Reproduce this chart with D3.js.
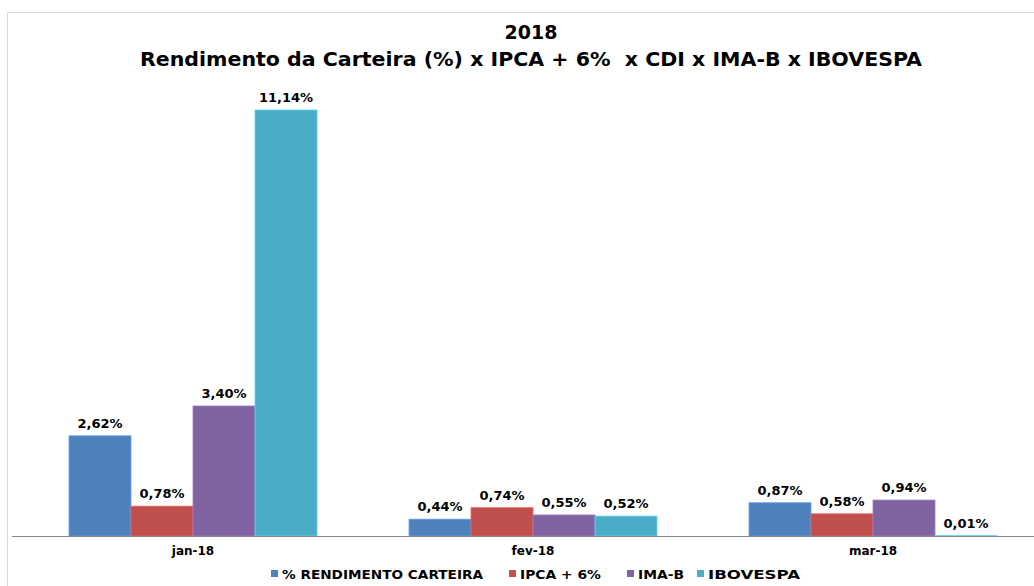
<!DOCTYPE html>
<html>
<head>
<meta charset="utf-8">
<script src="https://cdn.jsdelivr.net/npm/d3@7"></script>
<style>
  body { margin: 0; background: #fff; }
  text { font-family: "DejaVu Sans", Verdana, sans-serif; font-weight: bold; fill: #000; white-space: pre; }
</style>
</head>
<body>
<svg id="chart" width="1034" height="586"></svg>
<script>
(function(){
  var months = ['jan-18', 'fev-18', 'mar-18']
  var seriesNames = ['% RENDIMENTO CARTEIRA', 'IPCA + 6%', 'IMA-B', 'IBOVESPA']
  var carteira = [2.62, 0.44, 0.87]
  var ipca6 = [0.78, 0.74, 0.58]
  var imab = [3.40, 0.55, 0.94]
  var ibovespa = [11.14, 0.52, 0.01]
  var colors = ['#4f81bd', '#c0504d', '#8064a2', '#4bacc6']

  var allSeries = [carteira, ipca6, imab, ibovespa]

  var svg = d3.select('#chart'),
      width = +svg.attr('width'),
      height = +svg.attr('height')

  // chart frame
  svg.append('path')
    .attr('d', 'M7.5,' + height + ' V12.5 H' + width)
    .attr('fill', 'none').attr('stroke', '#d9d9d9')

  // title
  svg.append('text').attr('text-anchor', 'middle').style('font-size', '19px')
    .attr('x', 531).attr('y', 39).text('2018')
  svg.append('text').attr('text-anchor', 'middle').style('font-size', '19px')
    .attr('x', 531).attr('y', 66)
    .attr('textLength', 782).attr('lengthAdjust', 'spacingAndGlyphs')
    .text('Rendimento da Carteira (%) x IPCA + 6%  x CDI x IMA-B x IBOVESPA')

  var x0 = d3.scaleBand().domain(months).range([23, 1043])
  var x1 = d3.scaleBand().domain(d3.range(seriesNames.length))
    .range([46, x0.bandwidth() - 46])
  var y = d3.scaleLinear().domain([0, 11.14]).range([536, 110])

  var fmt = function(v) { return d3.format('.2f')(v).replace('.', ',') + '%' }

  allSeries.forEach(function(vals, si) {
    var g = svg.append('g').attr('class', 'series')
    g.selectAll('rect')
      .data(vals)
      .enter().append('rect')
      .attr('x', (d, i) => x0(months[i]) + x1(si))
      .attr('y', d => y(d))
      .attr('width', x1.bandwidth())
      .attr('height', d => Math.max(y(0) - y(d), 1))
      .attr('fill', colors[si])
      .attr('stroke', d3.color(colors[si]).brighter(0.6))
      .attr('stroke-width', 0.8)

    g.selectAll('text')
      .data(vals)
      .enter().append('text')
      .attr('x', (d, i) => x0(months[i]) + x1(si) + x1.bandwidth() / 2)
      .attr('y', d => y(d) - 8)
      .attr('text-anchor', 'middle')
      .style('font-size', '13px')
      .text(fmt)
  })

  // x axis
  svg.append('line')
    .attr('x1', 12).attr('x2', width).attr('y1', 536.5).attr('y2', 536.5)
    .attr('stroke', '#868686')

  svg.selectAll('.cat')
    .data(months)
    .enter().append('text')
    .attr('class', 'cat')
    .attr('x', d => x0(d) + x0.bandwidth() / 2)
    .attr('y', 555)
    .attr('text-anchor', 'middle')
    .style('font-size', '12px')
    .text(d => d)

  // legend
  var legendX = [271, 509, 627, 697]
  var legendW = [201, 81, 46, 92]
  seriesNames.forEach(function(name, i) {
    svg.append('rect')
      .attr('x', legendX[i]).attr('y', 570)
      .attr('width', 7).attr('height', 7)
      .attr('fill', colors[i])
    svg.append('text')
      .attr('x', legendX[i] + 11).attr('y', 579)
      .style('font-size', '13px')
      .attr('textLength', legendW[i]).attr('lengthAdjust', 'spacingAndGlyphs')
      .text(name)
  })
})()
</script>
</body>
</html>
